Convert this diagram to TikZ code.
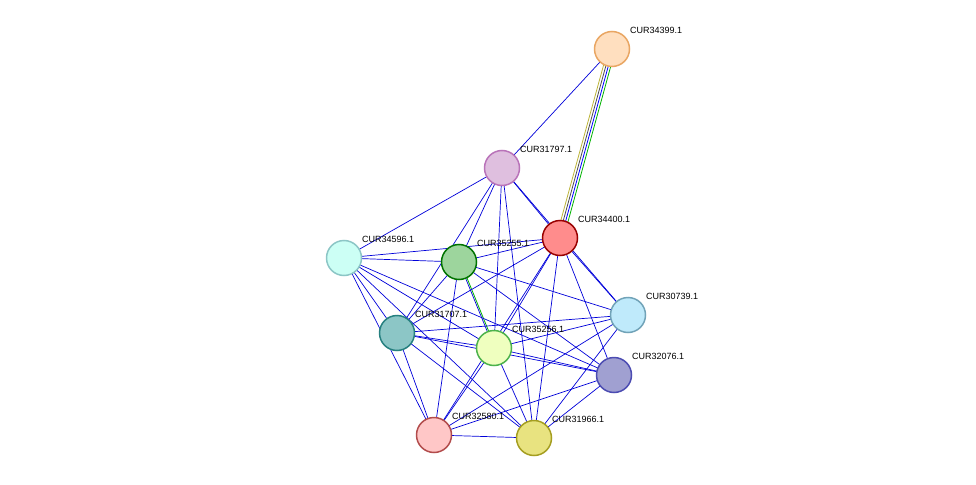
\documentclass[tikz,border=0pt]{standalone}
\usepackage{fontspec}
\setmainfont{Liberation Sans}
\begin{document}
\begin{tikzpicture}[x=1pt,y=-1pt,
 nd/.style={circle,draw,line width=1.5pt,minimum size=35pt,inner sep=0pt},
 lb/.style={font=\fontsize{9}{10}\selectfont,anchor=south west,inner sep=0pt},
 e/.style={blue!85!black,line width=0.7pt}]
\useasboundingbox (0,0) rectangle (976,484);
\coordinate (A) at (612,49);
\coordinate (B) at (502,168);
\coordinate (C) at (560,238);
\coordinate (D) at (344,258);
\coordinate (E) at (459,262);
\coordinate (F) at (628,315);
\coordinate (G) at (397,333);
\coordinate (H) at (494,348);
\coordinate (I) at (614,375);
\coordinate (J) at (434,435);
\coordinate (K) at (534,438);
\draw[yellow!70!black,line width=0.8pt] ([xshift=-4pt]A) -- ([xshift=-4pt]C);
\draw[black!70,line width=0.8pt] ([xshift=-1.5pt]A) -- ([xshift=-1.5pt]C);
\draw[blue,line width=0.8pt] ([xshift=1pt]A) -- ([xshift=1pt]C);
\draw[green!70!black,line width=0.8pt] ([xshift=3.5pt]A) -- ([xshift=3.5pt]C);
\draw[green!70!black,line width=0.8pt] ([xshift=1.5pt]E) -- ([xshift=1.5pt]H);
\foreach \a/\b in {A/B,B/D,B/E,B/C,B/G,B/H,B/K,B/F,C/E,C/D,C/G,C/H,C/J,C/K,C/I,C/F,
 D/E,D/G,D/H,D/J,D/I,D/K,E/G,E/H,E/J,E/F,E/I,G/H,G/F,G/I,G/J,G/K,H/F,H/I,H/J,H/K,
 F/J,F/K,I/J,I/K,J/K}
  \draw[e] (\a) -- (\b);
\node[nd,draw=orange!50!brown!70,fill=orange!25] (nA) at (A) {};
\node[nd,draw=violet!55,fill=violet!25] (nB) at (B) {};
\node[nd,draw=red!60!black,fill=red!45] (nC) at (C) {};
\node[nd,draw=teal!45,fill=green!20!cyan!20] (nD) at (D) {};
\node[nd,draw=green!45!black,fill=green!40!gray!55] (nE) at (E) {};
\node[nd,draw=cyan!40!gray,fill=cyan!25] (nF) at (F) {};
\node[nd,draw=teal!70!gray,fill=teal!45] (nG) at (G) {};
\node[nd,draw=green!40!gray,fill=lime!25] (nH) at (H) {};
\node[nd,draw=blue!40!gray,fill=blue!35!gray!55] (nI) at (I) {};
\node[nd,draw=red!40!gray,fill=red!22] (nJ) at (J) {};
\node[nd,draw=olive!80,fill=olive!45!yellow!45] (nK) at (K) {};
\node[lb] at (630,34) {CUR34399.1};
\node[lb] at (520,153) {CUR31797.1};
\node[lb] at (578,223) {CUR34400.1};
\node[lb] at (362,243) {CUR34596.1};
\node[lb] at (477,247) {CUR35255.1};
\node[lb] at (646,300) {CUR30739.1};
\node[lb] at (415,318) {CUR31707.1};
\node[lb] at (512,333) {CUR35256.1};
\node[lb] at (632,360) {CUR32076.1};
\node[lb] at (452,420) {CUR32580.1};
\node[lb] at (552,423) {CUR31966.1};
\end{tikzpicture}
\end{document}
